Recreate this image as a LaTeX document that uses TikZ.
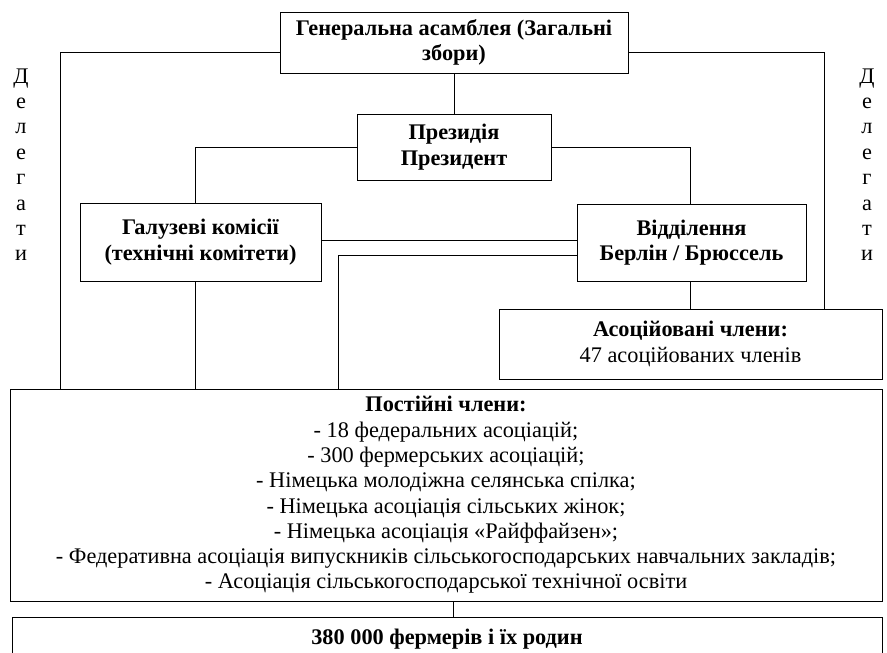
\documentclass[tikz,border=0pt]{standalone}
\usepackage{fontspec}
\setmainfont{Liberation Serif}
\begin{document}
\begin{tikzpicture}[x=1pt,y=-1pt,
  box/.style={draw, line width=0.9pt, inner sep=0pt, align=center, font=\fontsize{22.3}{25.3}\selectfont},
  deleg/.style={font=\fontsize{22.3}{25}\selectfont, inner sep=0pt},
  conn/.style={line width=0.8pt}]
\useasboundingbox (0,0) rectangle (887,653);
\clip (0,0) rectangle (887,653);
\node[box, minimum width=348, minimum height=61] (ga) at (454,42.5)
  {\textbf{Генеральна асамблея (Загальні}\\\textbf{збори)}};
\node[box, minimum width=194, minimum height=66] (pres) at (454,147)
  {\textbf{Президія}\\\textbf{Президент}};
\node[box, minimum width=241, minimum height=78] (gal) at (200.5,242)
  {\textbf{Галузеві комісії}\\\textbf{(технічні комітети)}};
\node[box, minimum width=229, minimum height=77] (vid) at (691.5,242.5)
  {\textbf{Відділення}\\\textbf{Берлін / Брюссель}};
\node[box, minimum width=383, minimum height=70] (asoc) at (690.5,344)
  {\textbf{Асоційовані члени:}\\47 асоційованих членів};
\node[box, minimum width=872, minimum height=212] (post) at (446,495)
  {\textbf{Постійні члени:}\\
   - 18 федеральних асоціацій;\\
   - 300 фермерських асоціацій;\\
   - Німецька молодіжна селянська спілка;\\
   - Німецька асоціація сільських жінок;\\
   - Німецька асоціація «Райффайзен»;\\
   - Федеративна асоціація випускників сільськогосподарських навчальних закладів;\\
   - Асоціація сільськогосподарської технічної освіти};
\node[box, minimum width=870, minimum height=44] (farm) at (447,639)
  {\textbf{380 000 фермерів і їх родин}};
\foreach \ch [count=\i] in {Д,е,л,е,г,а,т,и} {
  \node[deleg, anchor=base] (dl\i) at (21,{83+25.4*(\i-1)}) {\ch};
  \node[deleg, anchor=base] (dr\i) at (867,{83+25.4*(\i-1)}) {\ch};
}
\draw[conn] (ga.west |- 0,52) -| (post.north -| 60,0);
\draw[conn] (ga.east |- 0,52) -| (asoc.north -| 824,0);
\draw[conn] (ga.south) -- (pres.north);
\draw[conn] (pres.west) -| (gal.north -| 195,0);
\draw[conn] (pres.east) -| (vid.north -| 690,0);
\draw[conn] (gal.east |- 0,240) -- (vid.west |- 0,240);
\draw[conn] (vid.west |- 0,255) -| (post.north -| 338,0);
\draw[conn] (gal.south -| 195,0) -- (post.north -| 195,0);
\draw[conn] (vid.south -| 690,0) -- (asoc.north -| 690,0);
\draw[conn] (post.south -| 453,0) -- (farm.north -| 453,0);
\end{tikzpicture}
\end{document}
